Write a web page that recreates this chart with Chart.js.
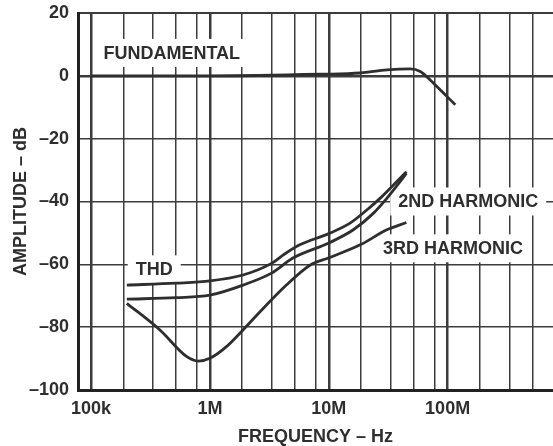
<!DOCTYPE html>
<html>
<head>
<meta charset="utf-8">
<script src="https://cdn.jsdelivr.net/npm/chart.js@4"></script>
<style>
  body { margin: 0; background: #fff; }
  #wrap { width: 553px; height: 446px; position: relative; }
</style>
</head>
<body>
<div id="wrap"><canvas id="chart"></canvas></div>
<script>
// frequency in Hz, amplitude in dB
const fundFreq = [1e5, 1e6, 8.5e6, 18.4e6, 30.8e6, 48.4e6, 58.8e6, 71.3e6, 92.3e6, 116e6];
const fundDb = [0, 0, 0.5, 0.9, 1.9, 2.2, 1.4, -1.3, -5.5, -9.2];

const thdFreq = [2e5, 5.2e5, 1e6, 1.9e6, 3.3e6, 4.15e6, 5.7e6, 9.9e6, 15.1e6, 20.9e6, 27e6, 45e6];
const thdDb = [-66.6, -66, -65.3, -63.4, -59.7, -57, -53.8, -50.3, -46.9, -42.7, -39, -30.5];

const h2Freq = [2e5, 5.2e5, 1e6, 1.9e6, 3.3e6, 5e6, 9.9e6, 16.1e6, 23.8e6, 30.8e6, 39.8e6, 45e6];
const h2Db = [-71.1, -70.6, -69.8, -66.6, -62.8, -58, -53.3, -49, -43.7, -39, -33.7, -31];

const h3Freq = [2e5, 3.8e5, 6.4e5, 8e5, 1e6, 1.38e6, 1.9e6, 2.64e6, 4.4e6, 7e6, 9.9e6, 18.4e6, 30.8e6, 45e6];
const h3Db = [-72.4, -80.9, -89.4, -90.8, -89.9, -86.2, -80.9, -75.1, -66.6, -60.2, -58, -53.8, -49, -46.7];

// axis ticks
const decadeTicks = [1e5, 1e6, 1e7, 1e8];
const decadeLabels = ['100k', '1M', '10M', '100M'];
const minorSteps = [1.87, 3.3, 5.2, 7.8];
const yTicks = [20, 0, -20, -40, -60, -80, -100];

// curve labels
const labelTexts = ['FUNDAMENTAL', 'THD', '2ND HARMONIC', '3RD HARMONIC'];
const labelFreq = [4.78e5, 3.4e5, 1.49e8, 1.11e8];
const labelDb = [7.3, -61.6, -40, -54.9];

const xMin = 7.77e4, xMax = 7.7e8;
const ink = '#2e2e2e';
const gridInk = '#3c3c3c';
const fontFam = '"Liberation Sans", Arial, sans-serif';

function pts(xs, ys) {
  return xs.map((v, i) => ({ x: v, y: ys[i] }));
}

function curve(label, xs, ys) {
  return {
    label: label,
    data: pts(xs, ys),
    showLine: true,
    borderColor: ink,
    borderWidth: 2.8,
    pointRadius: 0,
    cubicInterpolationMode: 'monotone',
    fill: false
  };
}

const labelPlugin = {
  id: 'curveLabels',
  beforeDatasetsDraw(chart) {
    const ctx = chart.ctx;
    const x = chart.scales.x, y = chart.scales.y;
    ctx.save();
    ctx.font = 'bold 18px ' + fontFam;
    ctx.textAlign = 'center';
    ctx.textBaseline = 'middle';
    labelTexts.forEach((t, i) => {
      const px = x.getPixelForValue(labelFreq[i]);
      const py = y.getPixelForValue(labelDb[i]);
      const w = ctx.measureText(t).width;
      ctx.fillStyle = '#fff';
      ctx.fillRect(px - w / 2 - 8, py - 14, w + 16, 28);
      ctx.fillStyle = ink;
      ctx.fillText(t, px, py + 1);
    });
    ctx.restore();
  }
};

new Chart(document.getElementById('chart'), {
  type: 'scatter',
  data: {
    datasets: [
      curve('Fundamental', fundFreq, fundDb),
      curve('THD', thdFreq, thdDb),
      curve('2nd Harmonic', h2Freq, h2Db),
      curve('3rd Harmonic', h3Freq, h3Db)
    ]
  },
  options: {
    responsive: true,
    maintainAspectRatio: false,
    devicePixelRatio: 1,
    animation: false,
    layout: { padding: { top: 13, right: 0, left: 0, bottom: 0 } },
    plugins: {
      legend: { display: false },
      tooltip: { enabled: false }
    },
    scales: {
      x: {
        type: 'logarithmic',
        min: xMin,
        max: xMax,
        afterBuildTicks(scale) {
          const ticks = [];
          decadeTicks.forEach(d => {
            ticks.push({ value: d });
            minorSteps.forEach(m => {
              if (d * m <= xMax) ticks.push({ value: d * m });
            });
          });
          scale.ticks = ticks;
        },
        afterFit(scale) {
          scale.height = 56;
          scale.paddingLeft = 0;
          scale.paddingRight = 0;
        },
        ticks: {
          autoSkip: false,
          maxRotation: 0,
          padding: 8,
          color: ink,
          font: { family: fontFam, size: 18, weight: 'bold' },
          callback(v) {
            const i = decadeTicks.indexOf(v);
            return i >= 0 ? decadeLabels[i] : '';
          }
        },
        grid: {
          drawTicks: false,
          color: gridInk,
          lineWidth(c) {
            return c.tick && decadeTicks.includes(c.tick.value) ? 2.5 : 1.5;
          }
        },
        border: { display: true, color: '#222', width: 3 },
        title: {
          display: true,
          text: 'FREQUENCY – Hz',
          color: ink,
          font: { family: fontFam, size: 18, weight: 'bold', lineHeight: 1 },
          padding: { top: 0, bottom: 0 }
        }
      },
      y: {
        min: -100,
        max: 20,
        afterBuildTicks(scale) {
          scale.ticks = yTicks.map(v => ({ value: v }));
        },
        afterFit(scale) {
          scale.width = 78;
          scale.paddingTop = 0;
          scale.paddingBottom = 0;
        },
        ticks: {
          padding: 9,
          color: ink,
          font: { family: fontFam, size: 18, weight: 'bold' },
          callback(v) { return v < 0 ? '–' + Math.abs(v) : String(v); }
        },
        grid: {
          drawTicks: false,
          color: gridInk,
          lineWidth(c) {
            if (!c.tick) return 1.5;
            if (c.tick.value === 0) return 2.5;
            if (c.tick.value === 20) return 2;
            return 1.5;
          }
        },
        border: { display: true, color: '#222', width: 3 },
        title: {
          display: true,
          text: 'AMPLITUDE – dB',
          color: ink,
          font: { family: fontFam, size: 18, weight: 'bold', lineHeight: 1.2 },
          padding: { top: 10, bottom: 0 }
        }
      }
    }
  },
  plugins: [labelPlugin]
});
</script>
</body>
</html>
